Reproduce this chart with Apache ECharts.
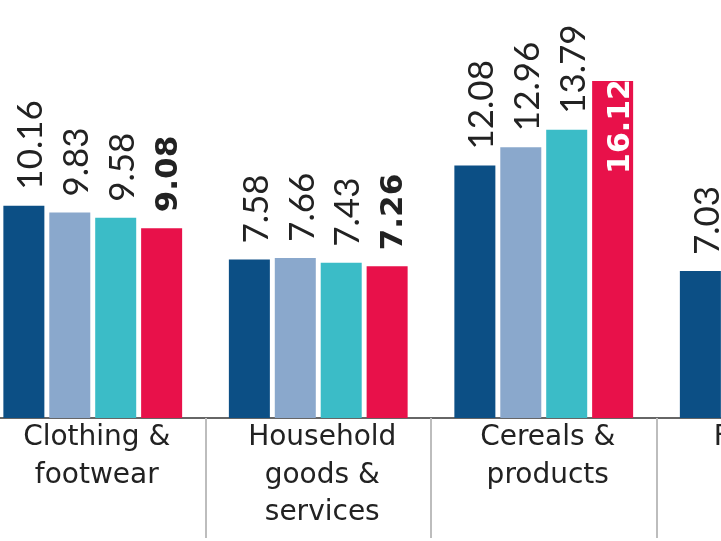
<!DOCTYPE html>
<html>
<head>
<meta charset="utf-8">
<script src="https://cdn.jsdelivr.net/npm/echarts@6/dist/echarts.min.js"></script>
<style>
html,body{margin:0;padding:0;background:#fff;overflow:hidden;width:721px;height:541px;}
#chart{position:absolute;left:-20px;top:0;width:902px;height:541px;}
</style>
</head>
<body>
<div id="chart"></div>
<script>
const categories = ["Clothing &\nfootwear", "Household\ngoods &\nservices", "Cereals &\nproducts", "Fuel and\nlight"];
const seriesNames = ["Oct 2022", "Nov 2022", "Dec 2022", "Jan 2023"];
const s1 = [10.16, 7.58, 12.08, 7.03];
const s2 = [9.83, 7.66, 12.96, null];
const s3 = [9.58, 7.43, 13.79, null];
const s4 = [9.08, 7.26, 16.12, null];
const colors = ["#0c4f85", "#8aa8cc", "#3bbcc7", "#e8114a"];

const baseLabel = {
  show: true,
  position: 'top',
  rotate: 90,
  align: 'left',
  verticalAlign: 'middle',
  distance: 16,
  offset: [0, 7],
  fontFamily: 'Lato',
  fontSize: 35,
  color: '#222',
  formatter: p => p.value.toFixed(2)
};

function mk(i, data) {
  const isLast = i === 3;
  return {
    name: seriesNames[i],
    type: 'bar',
    data: data.map((v, j) => {
      if (v == null) return v;
      if (isLast && v > 15) {
        return { value: v, label: { position: 'insideTop', align: 'right', distance: -2, offset: [0, 9], fontSize: 30, color: '#fff' } };
      }
      return v;
    }),
    barWidth: 41,
    barGap: '12%',
    itemStyle: { color: colors[i] },
    label: isLast ? Object.assign({}, baseLabel, { fontFamily: 'DejaVu Sans', fontWeight: 'bold', fontSize: 31 }) : baseLabel,
    animation: false
  };
}

const chart = echarts.init(document.getElementById('chart'));
chart.setOption({
  animation: false,
  grid: { left: 0, right: 0, top: -1, bottom: 123, containLabel: false },
  xAxis: {
    type: 'category',
    data: categories,
    boundaryGap: true,
    axisLine: { show: true, lineStyle: { color: '#666', width: 2 } },
    axisTick: { show: true, length: 120, lineStyle: { color: '#bdbdbd', width: 2 } },
    axisLabel: { interval: 0, color: '#222', fontFamily: 'DejaVu Sans', fontSize: 28, lineHeight: 37.5, margin: 1, align: 'center', padding: [0, 0, 0, 8] }
  },
  yAxis: {
    type: 'value', min: 0, max: 20, show: false,
    splitLine: { show: false }
  },
  series: [mk(0, s1), mk(1, s2), mk(2, s3), mk(3, s4)]
});
</script>
</body>
</html>
